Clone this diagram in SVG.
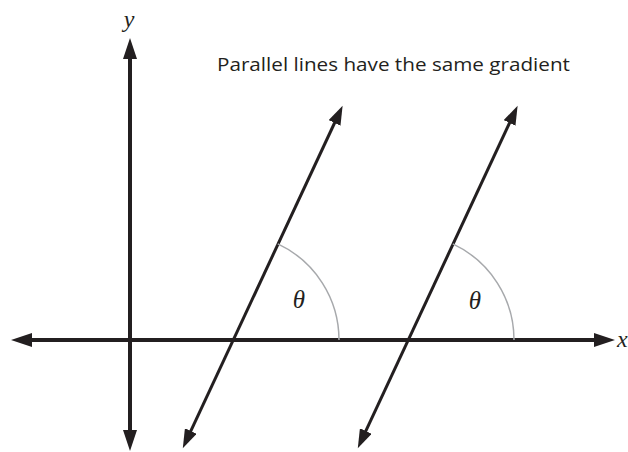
<svg xmlns="http://www.w3.org/2000/svg" width="628" height="452" viewBox="0 0 628 452">
<defs>
<style>
.axis{stroke:#231f20;stroke-width:4;fill:none}
.slant{stroke:#231f20;stroke-width:3;fill:none}
.arc{stroke:#a7a9ac;stroke-width:1.5;fill:none}
.math{font-family:"Liberation Serif",serif;font-style:italic;font-size:24px;fill:#231f20}
.theta{font-family:"Liberation Serif",serif;font-style:italic;font-size:25px;fill:#231f20}
.title{font-family:"Open Sans","Liberation Sans",sans-serif;font-size:19px;fill:#231f20}
</style>
<marker id="ah" markerUnits="userSpaceOnUse" markerWidth="22" markerHeight="14" refX="1" refY="7" orient="auto-start-reverse">
<path d="M0,0 L21,7 L0,14 z" fill="#231f20"/>
</marker>
<marker id="ahs" markerUnits="userSpaceOnUse" markerWidth="20" markerHeight="13" refX="1" refY="6.5" orient="auto-start-reverse">
<path d="M0,0 L19,6.5 L0,13 z" fill="#231f20"/>
</marker>
</defs>
<rect width="628" height="452" fill="#ffffff"/>
<g id="connectors">
<path id="x-axis" class="axis" d="M31,340 L595,340" marker-start="url(#ah)" marker-end="url(#ah)"/>
<path id="y-axis" class="axis" d="M130,58 L130,431" marker-start="url(#ah)" marker-end="url(#ah)"/>
<path id="line1" class="slant" d="M335,122 L190.4,431.9" marker-start="url(#ahs)" marker-end="url(#ahs)"/>
<path id="line2" class="slant" d="M510,122 L365.4,431.9" marker-start="url(#ahs)" marker-end="url(#ahs)"/>
<path id="arc1" class="arc" d="M339,340 A106,106 0 0 0 277.8,243.9"/>
<path id="arc2" class="arc" d="M514,340 A106,106 0 0 0 452.8,243.9"/>
</g>
<g id="labels">
<text class="math" x="129" y="27" text-anchor="middle">y</text>
<text class="math" x="617" y="347" font-size="20">x</text>
<text class="theta" x="299" y="308" text-anchor="middle">θ</text>
<text class="theta" x="475" y="309" text-anchor="middle">θ</text>
<text class="title" x="217" y="71" textLength="353" lengthAdjust="spacingAndGlyphs">Parallel lines have the same gradient</text>
</g>
</svg>
